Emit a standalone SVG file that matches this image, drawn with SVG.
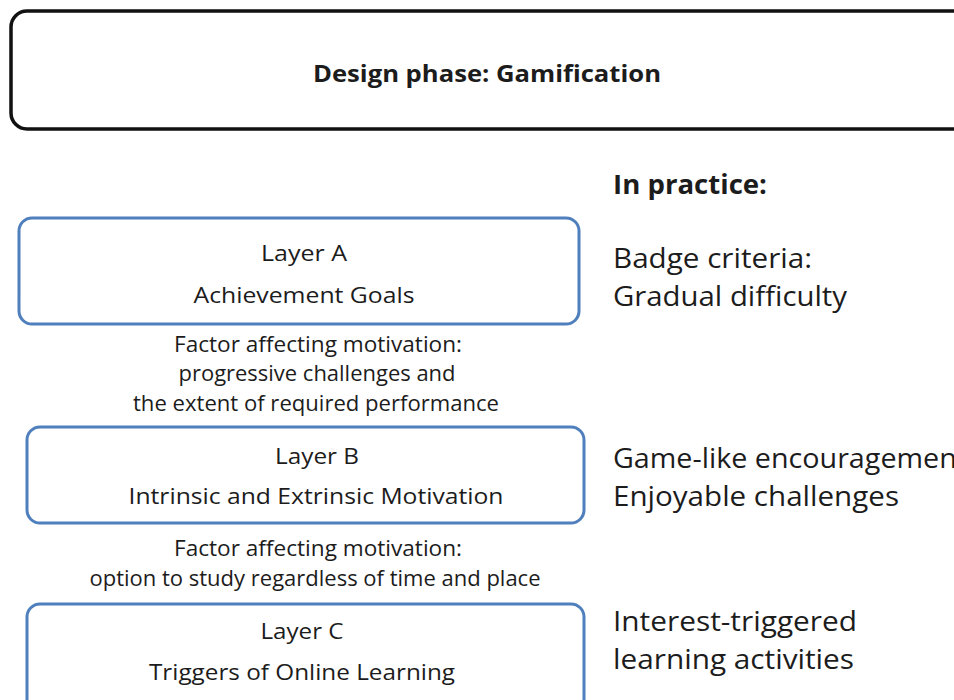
<svg xmlns="http://www.w3.org/2000/svg" width="954" height="700" viewBox="0 0 954 700">
<style>
.t{font-family:"Open Sans","Liberation Sans",sans-serif;fill:#1c1c1c;}
.c{text-anchor:middle;font-size:21px;}
.r{font-size:28px;}
.b{font-weight:bold;}
.layer{fill:#ffffff;stroke:#4f7fbc;stroke-width:3;}
</style>
<rect x="0" y="0" width="954" height="700" fill="#ffffff"/>
<g id="design-phase">
<rect x="11" y="11" width="980" height="118" rx="16" fill="#ffffff" stroke="#111111" stroke-width="3.5"/>
<text class="t b" x="487" y="82" text-anchor="middle" font-size="23" textLength="348" lengthAdjust="spacingAndGlyphs">Design phase: Gamification</text>
</g>
<g id="in-practice">
<text class="t b" x="613" y="194" font-size="26" textLength="154" lengthAdjust="spacingAndGlyphs">In practice:</text>
</g>
<g id="layer-a">
<rect class="layer" x="19" y="218" width="560" height="106" rx="13"/>
<text class="t c" x="304" y="261" textLength="86" lengthAdjust="spacingAndGlyphs">Layer A</text>
<text class="t c" x="304" y="303" textLength="221" lengthAdjust="spacingAndGlyphs">Achievement Goals</text>
</g>
<g id="practice-a">
<text class="t r" x="613" y="268" textLength="199" lengthAdjust="spacingAndGlyphs">Badge criteria:</text>
<text class="t r" x="613" y="306" textLength="234" lengthAdjust="spacingAndGlyphs">Gradual difficulty</text>
</g>
<g id="factor-ab">
<text class="t c" x="318" y="352" textLength="288" lengthAdjust="spacingAndGlyphs">Factor affecting motivation:</text>
<text class="t c" x="317" y="381" textLength="277" lengthAdjust="spacingAndGlyphs">progressive challenges and</text>
<text class="t c" x="316" y="411" textLength="366" lengthAdjust="spacingAndGlyphs">the extent of required performance</text>
</g>
<g id="layer-b">
<rect class="layer" x="27" y="427" width="557" height="96" rx="13"/>
<text class="t c" x="317" y="464" textLength="84" lengthAdjust="spacingAndGlyphs">Layer B</text>
<text class="t c" x="316" y="504" textLength="375" lengthAdjust="spacingAndGlyphs">Intrinsic and Extrinsic Motivation</text>
</g>
<g id="practice-b">
<text class="t r" x="613" y="468" textLength="354" lengthAdjust="spacingAndGlyphs">Game-like encouragement</text>
<text class="t r" x="613" y="506" textLength="286" lengthAdjust="spacingAndGlyphs">Enjoyable challenges</text>
</g>
<g id="factor-bc">
<text class="t c" x="318" y="556" textLength="288" lengthAdjust="spacingAndGlyphs">Factor affecting motivation:</text>
<text class="t c" x="315" y="586" textLength="451" lengthAdjust="spacingAndGlyphs">option to study regardless of time and place</text>
</g>
<g id="layer-c">
<rect class="layer" x="27" y="604" width="557" height="110" rx="13"/>
<text class="t c" x="302" y="639" textLength="83" lengthAdjust="spacingAndGlyphs">Layer C</text>
<text class="t c" x="302" y="680" textLength="306" lengthAdjust="spacingAndGlyphs">Triggers of Online Learning</text>
</g>
<g id="practice-c">
<text class="t r" x="613" y="631" textLength="244" lengthAdjust="spacingAndGlyphs">Interest-triggered</text>
<text class="t r" x="613" y="669" textLength="241" lengthAdjust="spacingAndGlyphs">learning activities</text>
</g>
<g id="connectors"></g>
</svg>
